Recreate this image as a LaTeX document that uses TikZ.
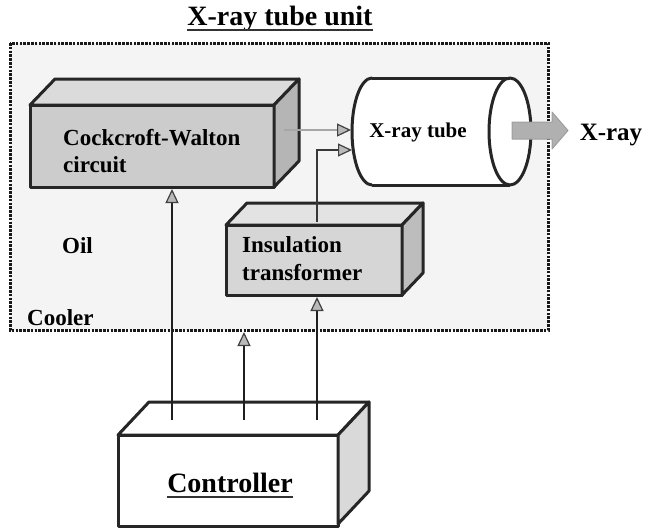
\documentclass[tikz,border=0pt]{standalone}
\usepackage{fontspec}
\setmainfont{Liberation Serif}
\usetikzlibrary{arrows.meta}
\begin{document}
\begin{tikzpicture}[x=1pt,y=-1pt,
  txt/.style={font=\bfseries\fontsize{23}{27}\selectfont, inner sep=0pt, text=black},
  bigtxt/.style={font=\bfseries\fontsize{28}{32}\selectfont, inner sep=0pt, text=black},
  face/.style={draw=black!85, line width=3pt, line join=round},
  conn/.style={line width=2.8pt, draw=black!88,
    -{Triangle[length=14pt,width=13pt,fill=gray!55,color=black!75,line width=1.2pt]}},
  gconn/.style={conn, draw=gray!70},
  cooler/.style={draw=black!90, line width=3pt, dash pattern=on 2.6pt off 1.2pt}
]
\useasboundingbox (0,0) rectangle (650,528);
\fill[white] (0,0) rectangle (650,528);

% title
\node[bigtxt, anchor=base] (title) at (280,25) {X-ray tube unit};
\draw[line width=2.2pt, black!80] ([yshift=-5pt]title.base west) -- ([yshift=-5pt]title.base east);

% cooler region
\fill[gray!9] (10,43) rectangle (548,330);
\draw[cooler] (10,43) rectangle (548,330);
\coordinate (coolbot) at (244,332);

% Cockcroft-Walton box
\filldraw[face, fill=gray!40] (30,105) rectangle (274,187);
\filldraw[face, fill=gray!28] (30,105) -- (55,79) -- (299,79) -- (274,105) -- cycle;
\filldraw[face, fill=gray!58] (274,105) -- (299,79) -- (299,161) -- (274,187) -- cycle;
\node[txt, anchor=base west] (cwt1) at (63,145) {Cockcroft-Walton};
\node[txt, anchor=base west] (cwt2) at (63,172) {circuit};
\coordinate (cwbot) at (172,189);
\coordinate (cwright) at (284,130);

% X-ray tube cylinder
\fill[white] (372,131.5) ellipse [x radius=20, y radius=53.5];
\fill[white] (372,78) rectangle (510,185);
\fill[white] (510,131.5) ellipse [x radius=21, y radius=53.5];
\begin{scope}
  \clip (340,60) rectangle (372,200);
  \draw[face] (372,131.5) ellipse [x radius=20, y radius=53.5];
\end{scope}
\draw[face] (372,78) -- (510,78);
\draw[face] (372,185) -- (510,185);
\draw[face] (510,131.5) ellipse [x radius=21, y radius=53.5];
\node[txt, font=\bfseries\fontsize{21}{25}\selectfont, anchor=base] (tube) at (418,137) {X-ray tube};
\coordinate (tubein1) at (351,130);
\coordinate (tubein2) at (352,150);

% X-ray output arrow
\filldraw[fill=gray!62, draw=gray!75, line width=1pt, line join=round]
  (512,122) -- (552,122) -- (552,112) -- (568,130.5) -- (552,149) -- (552,139) -- (512,139) -- cycle;
\node[txt, font=\bfseries\fontsize{25}{29}\selectfont, anchor=base] (xray) at (611,140) {X-ray};

% Insulation transformer box
\filldraw[face, fill=gray!32] (226,225) rectangle (402,295);
\filldraw[face, fill=gray!22] (226,225) -- (247,203) -- (423,203) -- (402,225) -- cycle;
\filldraw[face, fill=gray!52] (402,225) -- (423,203) -- (423,273) -- (402,295) -- cycle;
\node[txt, anchor=base west] (it1) at (242,252) {Insulation};
\node[txt, anchor=base west] (it2) at (242,280) {transformer};
\coordinate (itop) at (317,222);
\coordinate (ibend) at (317,150);
\coordinate (ibot) at (317,297);

% labels
\node[txt, anchor=base west] (oil) at (62,253) {Oil};
\node[txt, anchor=base west] (coolerlbl) at (27,325) {Cooler};

% Controller box
\filldraw[face, fill=white] (118,435) rectangle (338,526);
\filldraw[face, fill=white] (118,435) -- (149,402) -- (369,402) -- (338,435) -- cycle;
\filldraw[face, fill=gray!30] (338,435) -- (369,402) -- (369,491) -- (338,524) -- cycle;
\node[bigtxt, anchor=base] (ctl) at (230,492) {Controller};
\draw[line width=2.2pt, black!80] ([yshift=-5pt]ctl.base west) -- ([yshift=-5pt]ctl.base east);
\coordinate (c1) at (172,420);
\coordinate (c2) at (244,420);
\coordinate (c3) at (317,420);

% connectors
\draw[conn] (c1) -- (cwbot);
\draw[conn] (c2) -- (coolbot);
\draw[conn] (c3) -- (ibot);
\draw[gconn] (cwright) -- (tubein1);
\draw[conn, draw=black!78] (itop) -- (ibend) -- (tubein2);
\end{tikzpicture}
\end{document}
